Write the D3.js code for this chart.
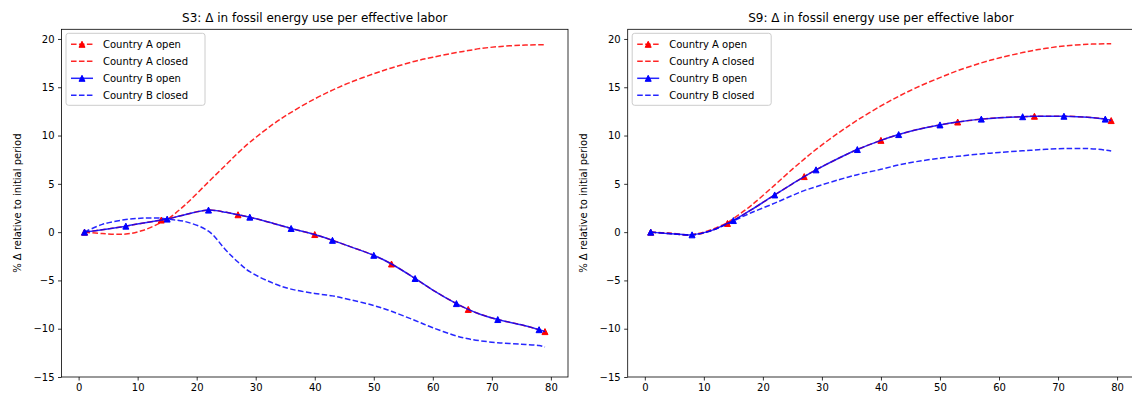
<!DOCTYPE html>
<html>
<head>
<meta charset="utf-8">
<script src="https://cdn.jsdelivr.net/npm/d3@7"></script>
<style>
  body { margin: 0; background: #fff; }
  svg { display: block; font-family: "DejaVu Sans", sans-serif; }
</style>
</head>
<body>
<svg id="svg" width="1132" height="398"></svg>
<script>
// periods where values are read
var periods = [1, 4, 8, 11, 14, 15, 18, 22, 25, 27, 29, 33, 36, 40, 43, 46, 50, 53, 57, 60, 64, 66, 68, 71, 75, 78, 79];

// S3 series
var s3AOpen   = [0, 0.25, 0.62, 0.95, 1.25, 1.35, 1.8, 2.28, 2.05, 1.8, 1.55, 0.9, 0.38, -0.25, -0.85, -1.5, -2.4, -3.3, -4.8, -6.0, -7.4, -8.0, -8.5, -9.05, -9.6, -10.1, -10.3];
var s3AClosed = [0, -0.15, -0.2, 0.2, 1.0, 1.3, 2.8, 5.2, 7.0, 8.2, 9.3, 11.2, 12.4, 13.8, 14.7, 15.5, 16.4, 17.0, 17.7, 18.1, 18.6, 18.8, 19.0, 19.2, 19.35, 19.4, 19.4];
var s3BOpen   = [0, 0.25, 0.62, 0.95, 1.25, 1.35, 1.8, 2.28, 2.05, 1.8, 1.55, 0.9, 0.38, -0.25, -0.85, -1.5, -2.4, -3.3, -4.8, -6.0, -7.4, -8.0, -8.5, -9.05, -9.6, -10.1, -10.3];
var s3BClosed = [0, 0.8, 1.3, 1.45, 1.45, 1.35, 1.1, 0.1, -1.9, -3.1, -4.1, -5.3, -5.9, -6.35, -6.6, -7.0, -7.6, -8.2, -9.15, -9.9, -10.75, -11.05, -11.25, -11.45, -11.6, -11.75, -11.9];

// S9 series
var s9AOpen   = [0, -0.15, -0.28, 0.1, 0.9, 1.2, 2.3, 3.85, 5.0, 5.75, 6.45, 7.7, 8.55, 9.5, 10.1, 10.6, 11.1, 11.4, 11.7, 11.85, 11.95, 12.0, 12.0, 12.0, 11.9, 11.7, 11.55];
var s9AClosed = [0, -0.1, -0.25, 0.2, 1.0, 1.4, 2.75, 4.87, 6.52, 7.56, 8.56, 10.36, 11.59, 13.07, 14.06, 14.96, 16.0, 16.72, 17.52, 18.03, 18.59, 18.83, 19.03, 19.27, 19.45, 19.5, 19.5];
var s9BOpen   = [0, -0.15, -0.28, 0.1, 0.9, 1.2, 2.3, 3.85, 5.0, 5.75, 6.45, 7.7, 8.55, 9.5, 10.1, 10.6, 11.1, 11.4, 11.7, 11.85, 11.95, 12.0, 12.0, 12.0, 11.9, 11.7, 11.55];
var s9BClosed = [0, -0.15, -0.28, 0.1, 0.85, 1.15, 2.0, 3.0, 3.8, 4.3, 4.7, 5.45, 5.95, 6.5, 6.95, 7.3, 7.65, 7.85, 8.1, 8.25, 8.42, 8.5, 8.58, 8.65, 8.65, 8.5, 8.4];

// marker periods
var aOpenMarks = [1, 14, 27, 40, 53, 66, 79];
var bOpenMarks = [1, 8, 15, 22, 29, 36, 43, 50, 57, 64, 71, 78];

var xTicks = [0, 10, 20, 30, 40, 50, 60, 70, 80];
var yTicks = [-15, -10, -5, 0, 5, 10, 15, 20];
var legendLabels = ['Country A open', 'Country A closed', 'Country B open', 'Country B closed'];

var panels = [
    {title: 'S3: \u0394 in fossil energy use per effective labor', left: 61.5,
     aOpen: s3AOpen, aClosed: s3AClosed, bOpen: s3BOpen, bClosed: s3BClosed},
    {title: 'S9: \u0394 in fossil energy use per effective labor', left: 627.7,
     aOpen: s9AOpen, aClosed: s9AClosed, bOpen: s9BOpen, bClosed: s9BClosed}
];

var plotW = 506.5;
var plotTop = 29.3, plotBottom = 377;

var svg = d3.select('svg');

var red = '#ff0000', blue = '#0000ff';
var dash = '5.55,2.4';
var tri = 'M0,-3L-3,3L3,3Z';

panels.forEach(function(p){

    var g = svg.append('g').attr('transform', 'translate(' + p.left + ',0)');

    var x = d3.scaleLinear().domain([-2.9, 82.9]).range([0, plotW]);
    var y = d3.scaleLinear().domain([-15, 21]).range([plotBottom, plotTop]);

    var line = d3.line()
        .x(function(d){ return x(d[0]); })
        .y(function(d){ return y(d[1]); })
        .curve(d3.curveCatmullRom.alpha(0.5));

    function pts(vals){ return periods.map(function(t, i){ return [t, vals[i]]; }); }
    function marks(vals, list){
        return list.map(function(t){ return [t, vals[periods.indexOf(t)]]; });
    }

    var yAxis = d3.axisLeft(y).tickValues(yTicks).tickSize(3.5).tickPadding(3.5)
        .tickFormat(function(d){ return d < 0 ? '\u2212' + Math.abs(d) : d; });
    var xAxis = d3.axisBottom(x).tickValues(xTicks).tickSize(3.5).tickPadding(3.5);

    var ya = g.append('g').call(yAxis);
    var xa = g.append('g').attr('transform', 'translate(0,' + plotBottom + ')').call(xAxis);
    [ya, xa].forEach(function(a){
        a.select('.domain').remove();
        a.selectAll('line').attr('stroke', '#000').attr('stroke-width', 0.8);
        a.selectAll('text').attr('font-size', 10).attr('fill', '#000')
            .style('font-family', '"DejaVu Sans", sans-serif');
    });

    // series: A open, A closed, B open, B closed
    g.append('path').attr('d', line(pts(p.aOpen))).attr('fill', 'none')
        .attr('stroke', red).attr('stroke-width', 1.5).attr('stroke-dasharray', dash).attr('opacity', 0.85);
    g.selectAll('.ma').data(marks(p.aOpen, aOpenMarks)).enter().append('path')
        .attr('d', tri).attr('fill', red).attr('stroke', red).attr('stroke-width', 1)
        .attr('transform', function(d){ return 'translate(' + x(d[0]) + ',' + y(d[1]) + ')'; });

    g.append('path').attr('d', line(pts(p.aClosed))).attr('fill', 'none')
        .attr('stroke', red).attr('stroke-width', 1.5).attr('stroke-dasharray', dash).attr('opacity', 0.85);

    g.append('path').attr('d', line(pts(p.bOpen))).attr('fill', 'none')
        .attr('stroke', blue).attr('stroke-width', 1.5).attr('opacity', 0.85);
    g.selectAll('.mb').data(marks(p.bOpen, bOpenMarks)).enter().append('path')
        .attr('d', tri).attr('fill', blue).attr('stroke', blue).attr('stroke-width', 1)
        .attr('transform', function(d){ return 'translate(' + x(d[0]) + ',' + y(d[1]) + ')'; });

    g.append('path').attr('d', line(pts(p.bClosed))).attr('fill', 'none')
        .attr('stroke', blue).attr('stroke-width', 1.5).attr('stroke-dasharray', dash).attr('opacity', 0.85);

    // frame
    g.append('rect').attr('x', 0).attr('y', plotTop).attr('width', plotW).attr('height', plotBottom - plotTop)
        .attr('fill', 'none').attr('stroke', '#000').attr('stroke-width', 0.8);

    // title
    g.append('text').text(p.title)
        .attr('x', plotW / 2).attr('y', plotTop - 7)
        .attr('text-anchor', 'middle').attr('font-size', 12).attr('fill', '#000');

    // y label
    g.append('text').text('% \u0394 relative to initial period')
        .attr('transform', 'translate(-41,' + ((plotTop + plotBottom) / 2) + ') rotate(-90)')
        .attr('text-anchor', 'middle').attr('font-size', 10).attr('fill', '#000');

    // legend
    var lg = g.append('g').attr('transform', 'translate(4.5,4)');
    lg.append('rect').attr('x', 0).attr('y', plotTop).attr('width', 139).attr('height', 72)
        .attr('rx', 2.5).attr('fill', '#fff').attr('fill-opacity', 0.8)
        .attr('stroke', '#ccc').attr('stroke-width', 1);
    var styles = [
        {c: red, d: dash, m: true},
        {c: red, d: dash, m: false},
        {c: blue, d: null, m: true},
        {c: blue, d: dash, m: false}
    ];
    legendLabels.forEach(function(lab, i){
        var yy = plotTop + 11 + i * 17;
        lg.append('line').attr('x1', 5).attr('x2', 27).attr('y1', yy).attr('y2', yy)
            .attr('stroke', styles[i].c).attr('stroke-width', 1.5).attr('opacity', 0.85)
            .attr('stroke-dasharray', styles[i].d);
        if (styles[i].m) {
            lg.append('path').attr('d', tri).attr('fill', styles[i].c).attr('stroke', styles[i].c)
                .attr('transform', 'translate(16,' + yy + ')');
        }
        lg.append('text').text(lab).attr('x', 37).attr('y', yy).attr('dy', '0.35em')
            .attr('font-size', 10).attr('fill', '#000');
    });
});
</script>
</body>
</html>
